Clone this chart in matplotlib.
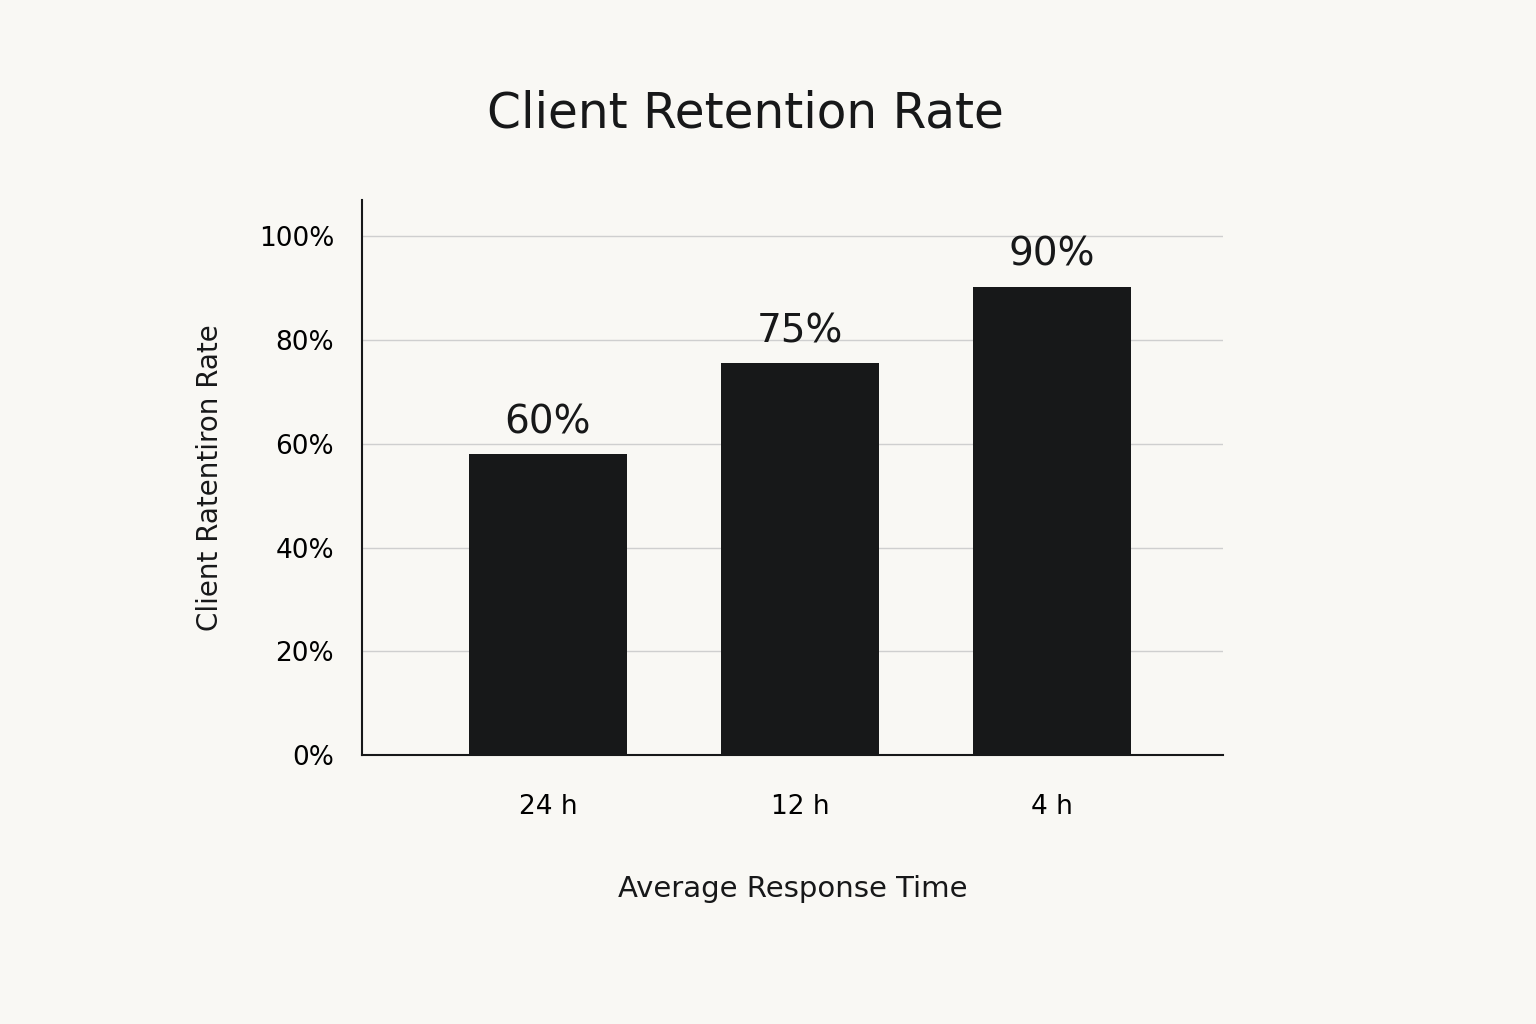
import matplotlib
matplotlib.use("Agg")
import matplotlib.pyplot as plt

categories = ["24 h", "12 h", "4 h"]
bar_values = [58, 75.5, 90.3]
bar_labels = ["60%", "75%", "90%"]
yticks = [0, 20, 40, 60, 80, 100]
ytick_labels = ["0%", "20%", "40%", "60%", "80%", "100%"]

bg = "#f9f8f4"
fig = plt.figure(figsize=(15.36, 10.24), dpi=100, facecolor=bg)
ax = fig.add_axes([362/1536, 1-755/1024, (1223-362)/1536, (755-200)/1024], facecolor=bg)
x = list(range(len(categories)))
ax.bar(x, bar_values, width=0.63, color="#171819", zorder=3)
for xi, v, l in zip(x, bar_values, bar_labels):
    ax.text(xi, v + 2.5, l, ha="center", va="bottom", fontsize=28, color="#171819")
ax.set_xlim(-0.738, 2.679)
ax.set_ylim(0, 107)
ax.set_yticks(yticks)
ax.set_yticklabels(ytick_labels, fontsize=19)
ax.set_xticks(x)
ax.set_xticklabels(categories, fontsize=19)
ax.tick_params(length=0, pad=20)
ax.tick_params(axis="x", pad=28)
ax.grid(axis="y", color="#cfcfcf", linewidth=1, zorder=0)
for s in ["top", "right"]:
    ax.spines[s].set_visible(False)
for s in ["left", "bottom"]:
    ax.spines[s].set_color("#171819")
    ax.spines[s].set_linewidth(1.5)
ax.set_xlabel("Average Response Time", fontsize=21, labelpad=40, color="#171819")
ax.set_ylabel("Client Ratentiron Rate", fontsize=20, labelpad=25, color="#171819")
fig.text(745/1536, 1-113/1024, "Client Retention Rate", ha="center", va="center", fontsize=35, color="#171819")
fig.savefig("out.png", dpi=100, facecolor=bg)
